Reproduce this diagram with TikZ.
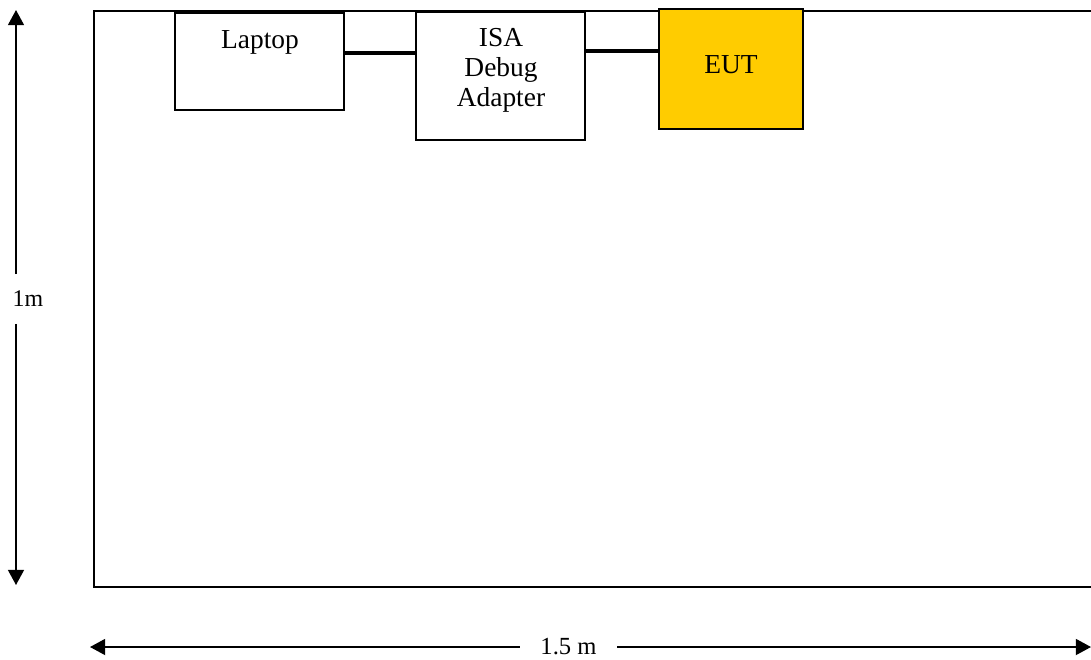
\documentclass[tikz,border=0pt]{standalone}
\usepackage{fontspec}
\setmainfont{Liberation Serif}
\usetikzlibrary{arrows.meta}
\definecolor{eutyellow}{RGB}{255,204,0}

\begin{document}
\begin{tikzpicture}[x=0.025cm, y=-0.025cm,
        box/.style={draw=black, line width=1.3pt, inner sep=0pt},
        lbl/.style={inner sep=0pt, font=\fontsize{19.5pt}{21pt}\selectfont},
        link/.style={black, line width=2.4pt},
        dim/.style={black, line width=1.3pt, -{Triangle[width=4mm, length=3.8mm]}}]
        \useasboundingbox (0,0) rectangle (1091,659);
        \draw[black, line width=1.4pt] (1096,11) -- (94,11) -- (94,587) -- (1096,587);

        \node[box, minimum width=4.225cm, minimum height=2.425cm] (laptop) at (259.5,61.5) {};
        \node[box, minimum width=4.225cm, minimum height=3.2cm] (isa) at (500.5,76) {};
        \node[box, fill=eutyellow, minimum width=3.6cm, minimum height=3cm] (eut) at (731,69) {};

        \node[lbl, anchor=base] (laptoptext) at (260,48) {Laptop};
        \node[lbl, anchor=north, align=center] (isatext) at (501,28.5) {ISA\\Debug\\Adapter};
        \node[lbl, anchor=base] (euttext) at (731,73) {EUT};

        \draw[link] ([yshift=2.125mm]laptop.east) -- ([yshift=2.125mm]laptop.east -| isa.west);
        \draw[link] ([yshift=6.25mm]isa.east) -- ([yshift=6.25mm]isa.east -| eut.west);

        \coordinate (vtop) at (16,10);
        \coordinate (vbot) at (16,585);
        \node[inner sep=0pt, minimum height=1.225cm, font=\fontsize{17pt}{17pt}\selectfont] (vlab) at (28,299) {1m};
        \draw[dim] (vlab.north -| vtop) -- (vtop);
        \draw[dim] (vlab.south -| vbot) -- (vbot);

        \coordinate (hleft) at (90,647);
        \coordinate (hright) at (1091,647);
        \node[inner sep=0pt, minimum width=2.425cm, font=\fontsize{17.5pt}{17.5pt}\selectfont] (hlab) at (568.5,647) {1.5 m};
        \draw[dim] (hlab.west) -- (hleft);
        \draw[dim] (hlab.east) -- (hright);
    \end{tikzpicture}
\end{document}
